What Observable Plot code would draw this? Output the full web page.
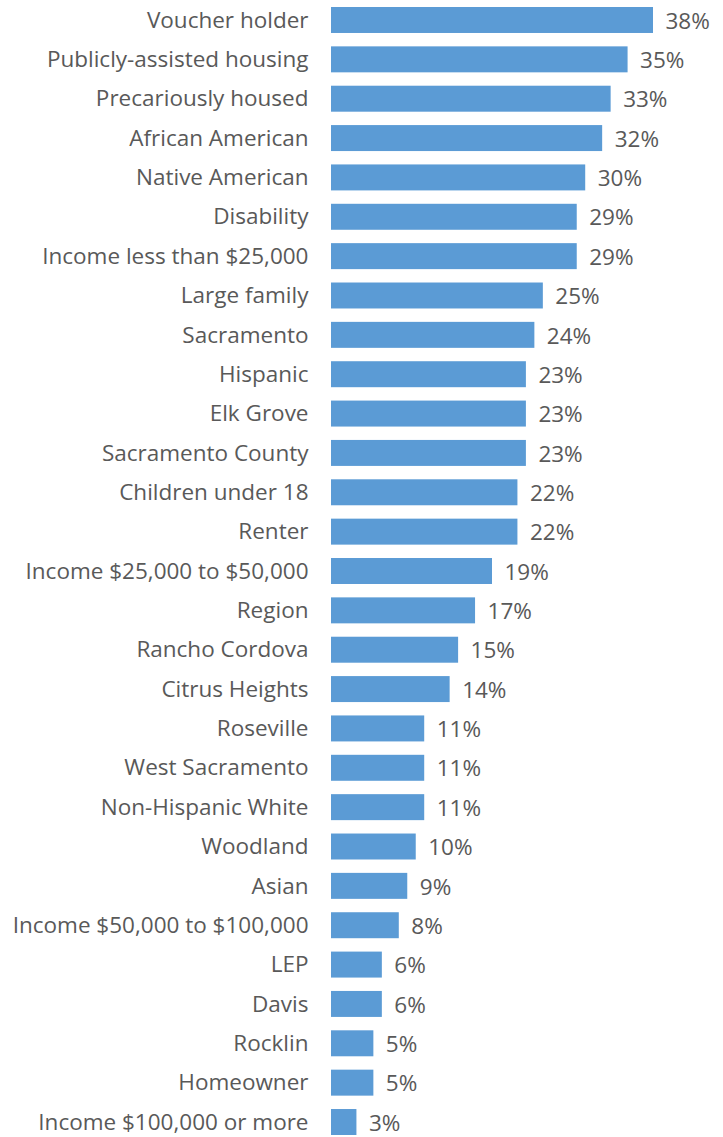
<!DOCTYPE html>
<html>
<head>
<meta charset="utf-8">
<script src="https://cdn.jsdelivr.net/npm/d3@7"></script>
<script src="https://cdn.jsdelivr.net/npm/@observablehq/plot@0.6"></script>
<style>
  html, body { margin: 0; padding: 0; background: #fff; }
  #chart svg { display: block; }
</style>
</head>
<body>
<div id="chart"></div>
<script>
const categories = [
  "Voucher holder", "Publicly-assisted housing", "Precariously housed", "African American",
  "Native American", "Disability", "Income less than $25,000", "Large family", "Sacramento",
  "Hispanic", "Elk Grove", "Sacramento County", "Children under 18", "Renter",
  "Income $25,000 to $50,000", "Region", "Rancho Cordova", "Citrus Heights", "Roseville",
  "West Sacramento", "Non-Hispanic White", "Woodland", "Asian", "Income $50,000 to $100,000",
  "LEP", "Davis", "Rocklin", "Homeowner", "Income $100,000 or more"
];
const values = [
  38, 35, 33, 32, 30, 29, 29, 25, 24, 23, 23, 23, 22, 22, 19, 17, 15, 14, 11, 11, 11, 10, 9, 8, 6, 6, 5, 5, 3
];
const data = categories.map((c, i) => ({category: c, value: values[i]}));

const chart = Plot.plot({
  width: 723,
  height: 1137,
  marginLeft: 331,
  marginRight: 70,
  marginTop: 7,
  marginBottom: 2,
  style: {fontFamily: "'Open Sans', sans-serif", fontSize: "22.5px", color: "#595959", background: "#fff"},
  x: {domain: [0, 38], axis: null},
  y: {domain: categories, paddingInner: 0.34, paddingOuter: 0, round: false, label: null},
  marks: [
    Plot.barX(data, {x: "value", y: "category", fill: "#5B9BD5"}),
    Plot.text(data, {x: "value", y: "category", text: d => d.value + "%", textAnchor: "start", dx: 12, dy: 1, fill: "#595959", fontSize: 22.5}),
    Plot.axisY({tickSize: 0, tickPadding: 23, fontSize: 22.5, fill: "#595959", label: null})
  ]
});
document.getElementById("chart").appendChild(chart);
</script>
</body>
</html>
